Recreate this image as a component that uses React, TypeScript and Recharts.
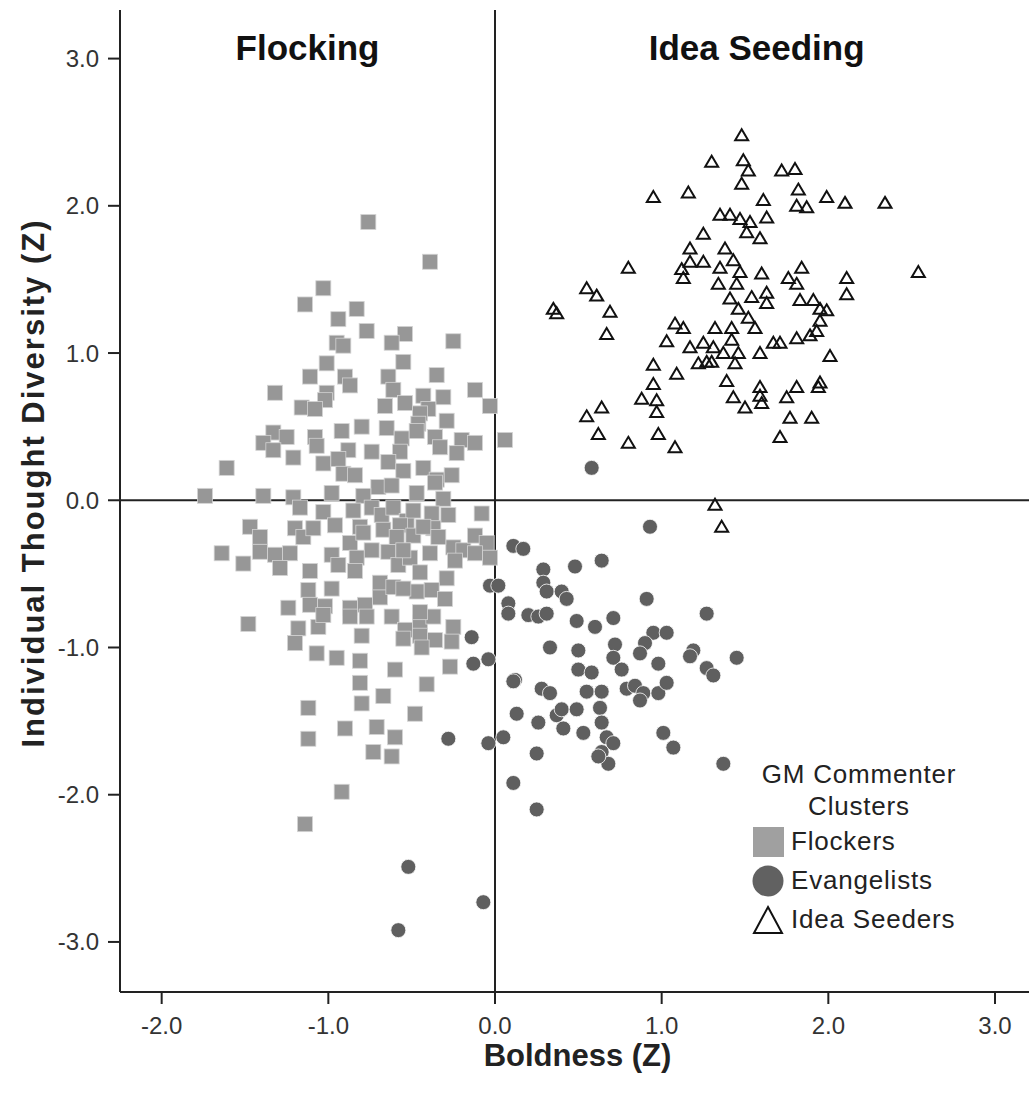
import React from "react";
import {
  ScatterChart,
  Scatter,
  XAxis,
  YAxis,
  ReferenceLine,
  ReferenceArea,
  Legend,
} from "recharts";

// values: [boldness z, thought diversity z]
const flockers: [number, number][] = [
  [-0.76, 1.89], [-0.39, 1.62], [-1.03, 1.44], [-1.14, 1.33], [-0.83, 1.3], [-0.94, 1.23],
  [-0.77, 1.15], [-0.54, 1.13], [-0.62, 1.07], [-0.25, 1.08], [-0.95, 1.07], [-0.91, 1.05],
  [-0.55, 0.94], [-1.01, 0.93], [-1.11, 0.84], [-0.9, 0.84], [-0.87, 0.78], [-0.64, 0.84],
  [-0.35, 0.85], [-1.32, 0.73], [-1.01, 0.73], [-1.02, 0.68], [-1.16, 0.63], [-1.08, 0.62],
  [-0.61, 0.75], [-0.66, 0.64], [-0.54, 0.66], [-0.43, 0.71], [-0.31, 0.7], [-0.4, 0.62],
  [-0.45, 0.59], [-0.12, 0.75], [-0.03, 0.64], [0.06, 0.41], [-0.29, 0.54], [-0.46, 0.52],
  [-1.33, 0.46], [-1.25, 0.43], [-1.08, 0.43], [-0.92, 0.47], [-0.8, 0.5], [-0.65, 0.49],
  [-0.56, 0.42], [-0.47, 0.47], [-0.36, 0.43], [-0.2, 0.41], [-0.12, 0.39], [-1.39, 0.39],
  [-1.33, 0.34], [-1.21, 0.29], [-1.07, 0.37], [-0.88, 0.34], [-0.74, 0.33], [-0.57, 0.33],
  [-0.33, 0.36], [-0.23, 0.32], [-1.61, 0.22], [-1.03, 0.25], [-0.94, 0.28], [-0.91, 0.18],
  [-0.84, 0.17], [-0.64, 0.26], [-0.55, 0.2], [-0.43, 0.22], [-0.35, 0.14], [-0.26, 0.17],
  [-0.7, 0.09], [-0.62, 0.1], [-0.47, 0.05], [-1.74, 0.03], [-1.39, 0.03], [-1.21, 0.02],
  [-0.98, 0.05], [-0.79, 0.03], [-0.31, 0.01], [-0.36, 0.12],
  [-1.17, -0.05], [-1.03, -0.08], [-0.85, -0.07], [-0.74, -0.05], [-0.68, -0.1], [-0.61, -0.05],
  [-0.53, -0.14], [-0.49, -0.07], [-0.38, -0.09], [-0.28, -0.1], [-0.08, -0.09], [-1.47, -0.18],
  [-1.41, -0.25], [-1.2, -0.19], [-1.15, -0.25], [-1.09, -0.19], [-0.96, -0.17], [-0.87, -0.29],
  [-0.81, -0.18], [-0.74, -0.34], [-0.67, -0.2], [-0.57, -0.17], [-0.49, -0.24], [-0.37, -0.19],
  [-0.25, -0.32], [-0.19, -0.34], [-0.12, -0.24], [-0.05, -0.29], [-0.03, -0.39], [-1.64, -0.36],
  [-1.51, -0.43], [-1.41, -0.35], [-1.32, -0.37], [-1.23, -0.36], [-1.29, -0.46], [-1.11, -0.48],
  [-0.98, -0.37], [-0.94, -0.44], [-0.83, -0.39], [-0.84, -0.48], [-0.64, -0.35], [-0.58, -0.44],
  [-0.51, -0.39], [-0.39, -0.36], [-0.45, -0.49], [-0.29, -0.53], [-0.24, -0.41], [-1.12, -0.61],
  [-0.98, -0.6], [-0.69, -0.56], [-0.69, -0.66], [-0.61, -0.59], [-0.47, -0.62], [-0.38, -0.61],
  [-0.3, -0.67], [-1.24, -0.73], [-1.11, -0.71], [-1.02, -0.72], [-0.87, -0.73], [-0.78, -0.71],
  [-1.48, -0.84], [-1.18, -0.87], [-1.06, -0.86], [-1.03, -0.78], [-0.87, -0.79], [-0.77, -0.79],
  [-0.62, -0.79], [-0.54, -0.88], [-0.45, -0.83], [-0.37, -0.79], [-0.25, -0.86], [-0.8, -0.92],
  [-0.55, -0.94], [-0.45, -0.92], [-0.36, -0.95], [-0.26, -0.96], [-1.2, -0.97], [-1.07, -1.04],
  [-0.95, -1.07], [-0.81, -1.09], [-0.44, -1.0], [-0.27, -1.13], [-0.6, -1.15], [-0.81, -1.24],
  [-0.41, -1.25], [-0.67, -1.33], [-0.8, -1.38], [-1.12, -1.41], [-0.48, -1.45], [-0.9, -1.55],
  [-0.71, -1.54], [-0.6, -1.61], [-1.12, -1.62], [-0.73, -1.71], [-0.62, -1.74], [-0.92, -1.98],
  [-1.14, -2.2], [-0.79, -0.22], [-0.59, -0.25], [-0.43, -0.18], [-0.34, -0.25], [-0.55, -0.34],
  [-0.12, -0.36], [-0.55, -0.6], [-0.45, -0.76],
];

const evangelists: [number, number][] = [
  [0.93, -0.18], [0.11, -0.31], [0.17, -0.33], [0.64, -0.41], [0.48, -0.45], [0.29, -0.47],
  [0.29, -0.56], [0.31, -0.62], [0.4, -0.62], [0.43, -0.67], [-0.03, -0.58], [0.02, -0.58],
  [0.08, -0.7], [0.08, -0.77], [0.2, -0.78], [0.26, -0.79], [0.31, -0.77], [0.91, -0.67],
  [1.27, -0.77], [0.49, -0.82], [0.6, -0.86], [0.71, -0.8], [0.95, -0.9], [1.03, -0.9],
  [0.9, -0.97], [0.87, -1.04], [0.72, -0.98], [0.71, -1.07], [0.76, -1.15], [0.98, -1.11],
  [1.19, -1.02], [1.17, -1.06], [1.27, -1.14], [1.31, -1.19], [1.45, -1.07], [0.33, -1.0],
  [0.5, -1.02], [0.5, -1.15], [0.58, -1.17], [0.55, -1.3], [0.64, -1.3], [0.28, -1.28],
  [0.33, -1.31], [0.12, -1.22], [0.79, -1.28], [0.84, -1.26], [0.89, -1.31], [0.87, -1.36],
  [0.98, -1.31], [1.03, -1.24], [0.13, -1.45], [0.26, -1.51], [0.37, -1.46], [0.4, -1.42],
  [0.49, -1.42], [0.63, -1.41], [0.64, -1.51], [0.41, -1.55], [0.53, -1.58], [0.67, -1.61],
  [0.71, -1.65], [0.64, -1.71], [0.68, -1.79], [0.62, -1.74], [1.01, -1.58], [1.07, -1.68],
  [1.37, -1.79], [0.25, -1.72], [0.05, -1.61], [-0.04, -1.65], [0.11, -1.92], [-0.14, -0.93],
  [-0.13, -1.11], [-0.04, -1.08], [0.11, -1.23], [-0.28, -1.62], [-0.52, -2.49], [-0.07, -2.73],
  [-0.58, -2.92], [0.25, -2.1], [0.58, 0.22],
];

const ideaSeeders: [number, number][] = [
  [1.48, 2.48], [1.3, 2.3], [1.49, 2.31], [1.52, 2.24], [1.48, 2.15], [1.72, 2.24],
  [1.8, 2.25], [0.95, 2.06], [1.16, 2.09], [1.61, 2.04], [1.82, 2.11], [1.81, 2.0],
  [1.87, 1.99], [1.99, 2.06], [2.1, 2.02], [2.34, 2.02], [1.35, 1.94], [1.41, 1.94],
  [1.47, 1.91], [1.53, 1.89], [1.63, 1.92], [1.51, 1.82], [1.59, 1.78], [1.25, 1.81],
  [1.17, 1.71], [1.17, 1.62], [1.25, 1.62], [1.38, 1.71], [1.43, 1.63], [1.35, 1.58],
  [1.47, 1.55], [1.12, 1.57], [1.13, 1.51], [1.34, 1.47], [1.45, 1.47], [1.6, 1.54],
  [1.54, 1.38], [1.63, 1.41], [1.63, 1.34], [1.76, 1.51], [1.84, 1.58], [1.81, 1.47],
  [1.83, 1.36], [1.91, 1.36], [1.95, 1.3], [1.99, 1.29], [2.11, 1.51], [2.11, 1.4],
  [2.54, 1.55], [0.8, 1.58], [0.55, 1.44], [0.61, 1.39], [0.35, 1.3], [0.37, 1.27],
  [0.69, 1.28], [0.67, 1.13], [1.41, 1.37], [1.46, 1.3], [1.52, 1.24], [1.56, 1.17],
  [1.08, 1.2], [1.13, 1.17], [1.32, 1.17], [1.42, 1.17], [1.03, 1.08], [1.17, 1.04],
  [1.25, 1.07], [1.31, 1.04], [1.37, 1.0], [1.46, 1.0], [1.44, 0.93], [1.22, 0.93],
  [1.27, 0.94], [1.3, 0.94], [1.42, 1.09], [1.59, 1.0], [1.67, 1.07], [1.71, 1.07],
  [1.81, 1.1], [1.89, 1.12], [1.93, 1.15], [1.95, 1.22], [2.01, 0.98], [0.95, 0.92],
  [1.09, 0.86], [0.95, 0.79], [0.88, 0.69], [0.97, 0.68], [0.97, 0.6], [0.64, 0.63],
  [0.55, 0.57], [0.62, 0.45], [0.8, 0.39], [0.98, 0.45], [1.08, 0.36], [1.39, 0.81],
  [1.43, 0.7], [1.5, 0.63], [1.59, 0.77], [1.59, 0.71], [1.6, 0.66], [1.75, 0.7],
  [1.81, 0.77], [1.95, 0.8], [1.94, 0.77], [1.77, 0.56], [1.9, 0.56], [1.71, 0.43],
  [1.32, -0.03], [1.36, -0.18],
];

const legendOrder = ["Flockers", "Evangelists", "Idea Seeders"];
const xTicks = [-2, -1, 0, 1, 2, 3];
const yTicks = [-3, -2, -1, 0, 1, 2, 3];
const xDomain: [number, number] = [-2.25, 3.24];
const yDomain: [number, number] = [-3.34, 3.33];

const FONT = "'Liberation Sans', Arial, sans-serif";

const toPoints = (rows: [number, number][]) => rows.map(([x, y]) => ({ x, y }));

const SquareDot = (p: any) => (
  <rect x={p.cx - 7.5} y={p.cy - 7.5} width={15} height={15} fill="#979797" stroke="#d4d4d4" strokeWidth={0.8} />
);
const RoundDot = (p: any) => (
  <circle cx={p.cx} cy={p.cy} r={7.5} fill="#5f5f5f" stroke="#ffffff" strokeWidth={0.8} />
);
const TriDot = (p: any) => (
  <path
    d={`M${p.cx},${p.cy - 6} L${p.cx + 6.5},${p.cy + 5} L${p.cx - 6.5},${p.cy + 5} Z`}
    fill="none"
    stroke="#111"
    strokeWidth={2}
  />
);

const legendIcon = (name: string) => {
  if (name === "Flockers") return <rect x={1} y={1} width={31} height={30} fill="#a0a0a0" />;
  if (name === "Evangelists") return <circle cx={16} cy={16} r={15.5} fill="#616161" />;
  return <path d="M16,3 L30,29 L2,29 Z" fill="none" stroke="#111" strokeWidth={2} />;
};

const ClusterLegend = ({ payload }: any) => {
  const items = [...(payload || [])].sort(
    (a: any, b: any) => legendOrder.indexOf(a.value) - legendOrder.indexOf(b.value)
  );
  return (
    <div style={{ fontFamily: FONT, fontSize: 26, color: "#222", letterSpacing: 0.8 }}>
      <div style={{ textAlign: "center", width: 214, lineHeight: "32px" }}>
        GM Commenter
        <br />
        Clusters
      </div>
      {items.map((item: any) => (
        <div key={item.value} style={{ display: "flex", alignItems: "center", height: 39 }}>
          <svg width={34} height={32} style={{ marginRight: 5 }}>
            {legendIcon(item.value)}
          </svg>
          <span>{item.value}</span>
        </div>
      ))}
    </div>
  );
};

const YTitle = ({ viewBox }: any) => {
  const x = viewBox.x + 44;
  const y = viewBox.y + viewBox.height / 2 - 18;
  return (
    <text
      x={x}
      y={y}
      transform={`rotate(-90, ${x}, ${y})`}
      textAnchor="middle"
      fontFamily={FONT}
      fontWeight="bold"
      fontSize={31}
      letterSpacing={2}
      fill="#222"
    >
      Individual Thought Diversity (Z)
    </text>
  );
};

const tickStyle = { fill: "#333", fontSize: 24, fontFamily: FONT };

export default function App() {
  return (
    <div
      style={{
        position: "absolute",
        left: 0,
        top: 0,
        width: 1029,
        height: 1095,
        overflow: "hidden",
        background: "#fff",
        fontFamily: FONT,
      }}
    >
      <ScatterChart width={1040} height={1095} margin={{ top: 10, right: 5, bottom: 0, left: 0 }}>
        <XAxis
          type="number"
          dataKey="x"
          domain={xDomain}
          ticks={xTicks}
          allowDataOverflow
          height={103}
          tickSize={12}
          tickMargin={13}
          tickFormatter={(v: number) => v.toFixed(1)}
          tick={tickStyle}
          axisLine={{ stroke: "#222", strokeWidth: 2 }}
          tickLine={{ stroke: "#222", strokeWidth: 2 }}
          label={{
            value: "Boldness (Z)",
            position: "insideBottom",
            offset: 29,
            style: { fontFamily: FONT, fontWeight: "bold", fontSize: 31, fill: "#222" },
          }}
        />
        <XAxis
          xAxisId="top"
          orientation="top"
          type="number"
          domain={xDomain}
          height={0}
          tick={false}
          tickLine={false}
          axisLine={{ stroke: "#222", strokeWidth: 2 }}
        />
        <YAxis
          type="number"
          dataKey="y"
          domain={yDomain}
          ticks={yTicks}
          allowDataOverflow
          width={120}
          tickSize={12}
          tickMargin={9}
          tickFormatter={(v: number) => v.toFixed(1)}
          tick={tickStyle}
          axisLine={{ stroke: "#222", strokeWidth: 2 }}
          tickLine={{ stroke: "#222", strokeWidth: 2 }}
          label={<YTitle />}
        />
        <ReferenceArea
          x1={xDomain[0]}
          x2={0}
          y1={yDomain[0]}
          y2={yDomain[1]}
          fill="none"
          stroke="none"
          label={{
            value: "Flocking",
            position: "insideTop",
            offset: 25,
            style: { fontFamily: FONT, fontWeight: "bold", fontSize: 35, fill: "#111" },
          }}
        />
        <ReferenceArea
          x1={0}
          x2={3.14}
          y1={yDomain[0]}
          y2={yDomain[1]}
          fill="none"
          stroke="none"
          label={{
            value: "Idea Seeding",
            position: "insideTop",
            offset: 25,
            style: { fontFamily: FONT, fontWeight: "bold", fontSize: 35, fill: "#111" },
          }}
        />
        <ReferenceLine x={0} stroke="#222" strokeWidth={2} />
        <ReferenceLine y={0} stroke="#222" strokeWidth={2} />
        <Scatter
          name="Flockers"
          data={toPoints(flockers)}
          shape={SquareDot}
          fill="#a0a0a0"
          isAnimationActive={false}
        />
        <Scatter
          name="Evangelists"
          data={toPoints(evangelists)}
          shape={RoundDot}
          fill="#616161"
          isAnimationActive={false}
        />
        <Scatter
          name="Idea Seeders"
          data={toPoints(ideaSeeders)}
          shape={TriDot}
          fill="#111"
          isAnimationActive={false}
        />
        <Legend
          layout="horizontal"
          verticalAlign="middle"
          align="center"
          content={<ClusterLegend />}
          wrapperStyle={{ left: 752, top: 758, width: 240 }}
        />
      </ScatterChart>
    </div>
  );
}
